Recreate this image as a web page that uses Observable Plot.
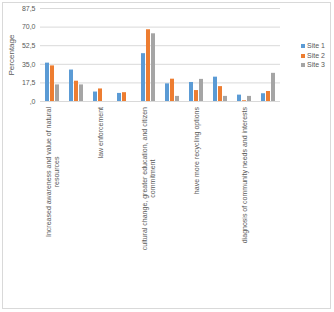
<!DOCTYPE html>
<html><head><meta charset="utf-8">
<script src="https://cdn.jsdelivr.net/npm/d3@7"></script>
<script src="https://cdn.jsdelivr.net/npm/@observablehq/plot@0.6"></script>
<style>
body{margin:0;background:#fff;}
#wrap{position:relative;width:334px;height:312px;font-family:"Liberation Sans",Arial,sans-serif;overflow:hidden;}
#border{position:absolute;left:2px;top:2px;width:329px;height:307px;border:1px solid #d9d9d9;box-sizing:border-box;}
#chart{position:absolute;left:0;top:0;}
#ytitle{position:absolute;left:11px;top:55px;font-size:8px;color:#595959;transform:translate(-50%,-50%) rotate(-90deg);white-space:nowrap;}
#legend{position:absolute;left:301px;top:41px;font-size:7px;color:#595959;line-height:9.5px;}
#legend .sw{display:inline-block;width:4px;height:4px;margin-right:2px;vertical-align:0px;}
</style></head><body>
<div id="wrap"><div id="border"></div><div id="chart"></div><div id="ytitle">Percentage</div><div id="legend"></div></div>
<script>
const categories = [1, 2, 3, 4, 5, 6, 7, 8, 9, 10];
const tickLabels = [
  "Increased awareness and value of natural\nresources", "",
  "law enforcement", "",
  "cultural change, greater education, and citizen\ncommitment", "",
  "have more recycling options", "",
  "diagnosis of community needs and interests", ""
];
const sites = ["Site 1", "Site 2", "Site 3"];
const colors = ["#5B9BD5", "#ED7D31", "#A5A5A5"];
const site1 = [36.1, 29.6, 8.9, 7.6, 45.0, 16.6, 17.9, 22.9, 6.0, 7.3];
const site2 = [33.5, 19.1, 11.8, 8.3, 67.5, 21.0, 10.3, 14.0, 0.7, 9.4];
const site3 = [15.6, 15.6, 0, 0, 63.7, 4.8, 20.8, 4.8, 4.8, 26.5];
const yTicks = [0, 17.5, 35, 52.5, 70, 87.5];

const series = [site1, site2, site3];
const data = [];
categories.forEach((c, i) => sites.forEach((s, j) => data.push({cat: c, site: s, value: series[j][i]})));

const fontSize = 7;
const ctx = document.createElement("canvas").getContext("2d");
ctx.font = `${fontSize}px "Liberation Sans"`;
const labelMarks = categories.filter((c, i) => tickLabels[i]).map(c => {
  const t = tickLabels[c - 1];
  const w = d3.max(t.split("\n"), l => ctx.measureText(l).width);
  return Plot.text([c], {
    fx: d => d, text: d => tickLabels[d - 1],
    frameAnchor: "bottom", rotate: -90, textAnchor: "middle", lineAnchor: "middle",
    lineHeight: 1.19, dy: 5.5 + w / 2, fontSize, fill: "#595959"
  });
});

const chart = Plot.plot({
  width: 334, height: 312,
  marginLeft: 38, marginRight: 53, marginTop: 8, marginBottom: 211,
  style: {fontFamily: '"Liberation Sans", Arial, sans-serif', fontSize: "7px", background: "transparent", overflow: "visible"},
  fx: {domain: categories, padding: 0, axis: null},
  x: {domain: sites, paddingInner: 0.15, paddingOuter: 0.78, axis: null},
  y: {domain: [0, 87.5]},
  color: {domain: sites, range: colors},
  marks: [
    Plot.ruleY(yTicks, {stroke: "#d9d9d9", strokeWidth: 1}),
    Plot.barY(data, {fx: "cat", x: "site", y: "value", fill: "site"}),
    Plot.axisY(yTicks, {
      tickSize: 0, tickPadding: 5, fontSize, fill: "#595959", label: null,
      tickFormat: d => d === 0 ? ",0" : d.toFixed(1).replace(".", ",")
    }),
    ...labelMarks
  ]
});
document.getElementById("chart").appendChild(chart);

const legend = d3.select("#legend");
sites.forEach((s, i) => {
  const row = legend.append("div");
  row.append("span").attr("class", "sw").style("background", colors[i]);
  row.append("span").text(s);
});
</script>
</body></html>
